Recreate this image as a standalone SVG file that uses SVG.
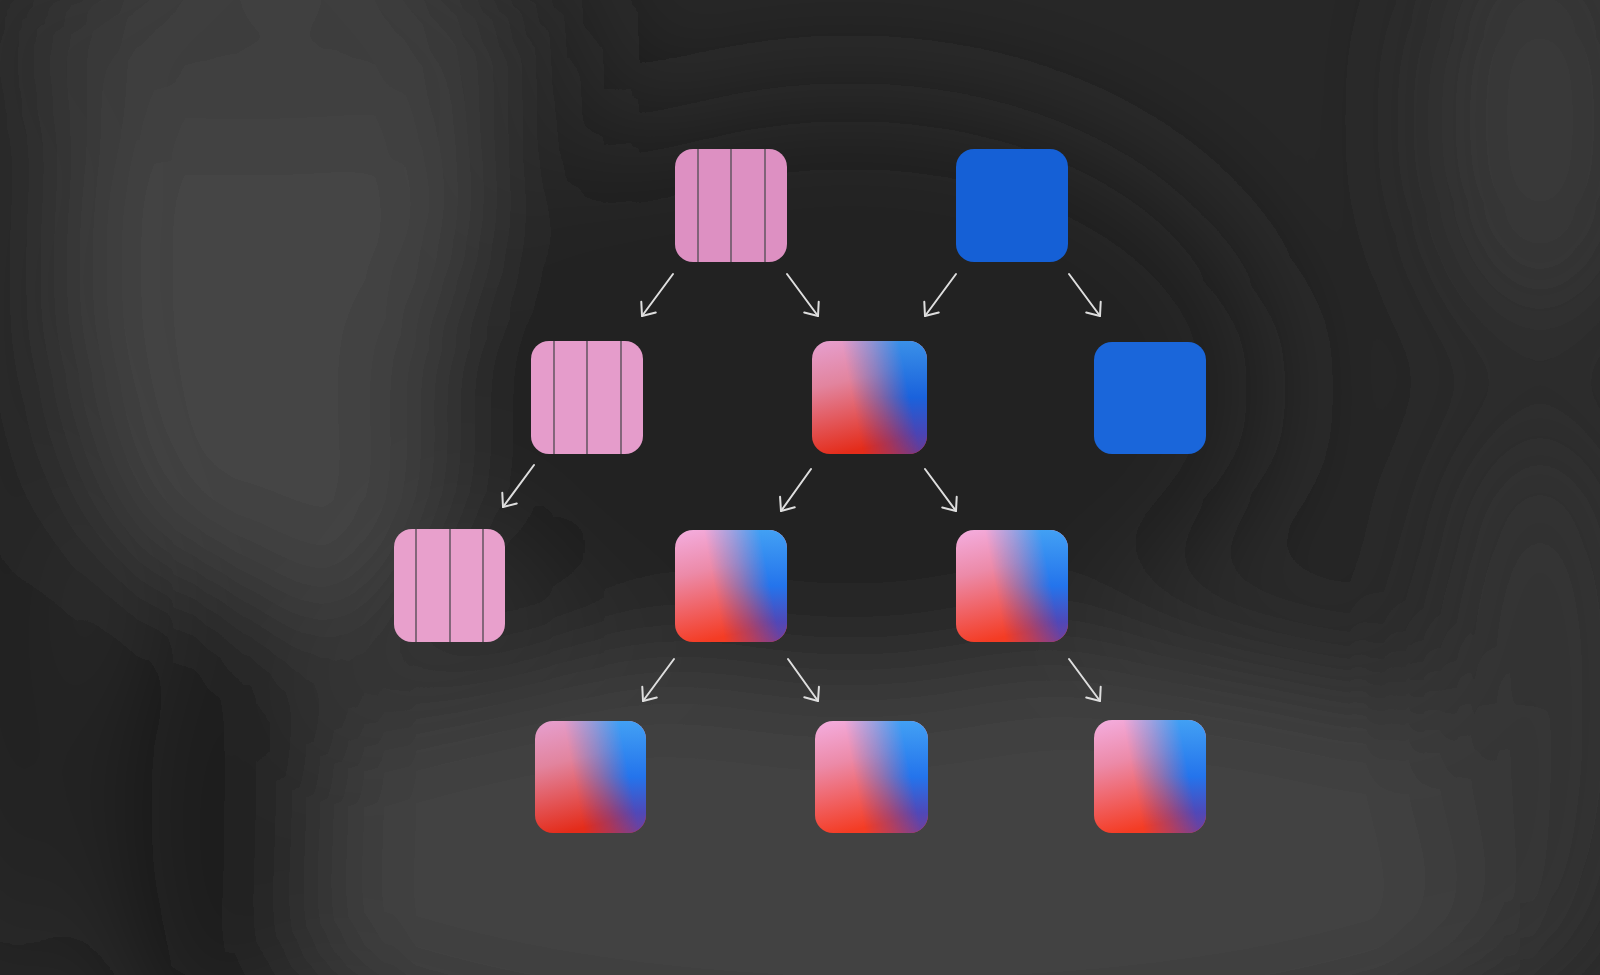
<svg xmlns="http://www.w3.org/2000/svg" width="1600" height="975" viewBox="0 0 1600 975">
  <defs>
    <filter id="blurBg" x="-50%" y="-50%" width="200%" height="200%">
      <feGaussianBlur stdDeviation="60"/>
    </filter>
    <linearGradient id="warm" x1="0" y1="0" x2="0.25" y2="1">
      <stop offset="0" stop-color="#e6a0d0"/>
      <stop offset="0.4" stop-color="#e2849e"/>
      <stop offset="1" stop-color="#e42c1a"/>
    </linearGradient>
    <linearGradient id="cool" x1="0" y1="0" x2="0" y2="1">
      <stop offset="0" stop-color="#3a90e8"/>
      <stop offset="0.5" stop-color="#1a62dc"/>
      <stop offset="0.82" stop-color="#4a44b4"/>
      <stop offset="1" stop-color="#6a3a92"/>
    </linearGradient>
    <linearGradient id="warm2" x1="0" y1="0" x2="0.25" y2="1">
      <stop offset="0" stop-color="#f4aee0"/>
      <stop offset="0.4" stop-color="#ec8aa8"/>
      <stop offset="1" stop-color="#f43c24"/>
    </linearGradient>
    <linearGradient id="cool2" x1="0" y1="0" x2="0" y2="1">
      <stop offset="0" stop-color="#42a0f4"/>
      <stop offset="0.5" stop-color="#2474ec"/>
      <stop offset="0.82" stop-color="#5048b8"/>
      <stop offset="1" stop-color="#72409a"/>
    </linearGradient>
    <linearGradient id="mg" x1="0.36" y1="0.545" x2="0.84" y2="0.455">
      <stop offset="0" stop-color="#000"/>
      <stop offset="0.5" stop-color="#777"/>
      <stop offset="1" stop-color="#fff"/>
    </linearGradient>
    <mask id="coolMask" maskContentUnits="objectBoundingBox">
      <rect x="0" y="0" width="1" height="1" fill="url(#mg)"/>
    </mask>
    <marker id="ah" viewBox="-14 -12 16 24" refX="0" refY="0" markerWidth="16" markerHeight="24" markerUnits="userSpaceOnUse" orient="auto">
      <path d="M-11,-9 L0,0 L-11,9" fill="none" stroke="#dedede" stroke-width="2" stroke-linecap="round" stroke-linejoin="round"/>
    </marker>
    <style>
      .arrow { stroke: #dedede; stroke-width: 2; fill: none; stroke-linecap: round; marker-end: url(#ah); }
      .stripe { stroke: #6a5866; stroke-width: 1.6; }
      .blue { fill: #1560d6; }
    </style>
  </defs>

  <!-- background -->
  <rect x="0" y="0" width="1600" height="975" fill="#272727"/>
  <g filter="url(#blurBg)">
    <ellipse cx="280" cy="260" rx="210" ry="420" fill="#444"/>
    <ellipse cx="250" cy="40" rx="300" ry="80" fill="#3e3e3e"/>
    <ellipse cx="900" cy="860" rx="720" ry="220" fill="#424242"/>
    <ellipse cx="850" cy="390" rx="420" ry="290" fill="#202020"/>
    <ellipse cx="545" cy="300" rx="40" ry="360" fill="#1d1d1d"/>
    <ellipse cx="210" cy="820" rx="110" ry="260" fill="#1c1c1c"/>
    <ellipse cx="0" cy="450" rx="50" ry="600" fill="#222"/>
    <ellipse cx="1540" cy="120" rx="100" ry="220" fill="#3a3a3a"/>
    <ellipse cx="1540" cy="700" rx="100" ry="300" fill="#363636"/>
  </g>

  <!-- connectors -->
  <g id="connectors">
    <line class="arrow" x1="673" y1="274" x2="642" y2="316"/>
    <line class="arrow" x1="787" y1="274" x2="818" y2="316"/>
    <line class="arrow" x1="956" y1="274" x2="925" y2="316"/>
    <line class="arrow" x1="1069" y1="274" x2="1100" y2="316"/>
    <line class="arrow" x1="534" y1="465" x2="503" y2="507"/>
    <line class="arrow" x1="811" y1="469" x2="781" y2="511"/>
    <line class="arrow" x1="925" y1="469" x2="956" y2="511"/>
    <line class="arrow" x1="674" y1="659" x2="643" y2="701"/>
    <line class="arrow" x1="788" y1="659" x2="818" y2="701"/>
    <line class="arrow" x1="1069" y1="659" x2="1100" y2="701"/>
  </g>

  <!-- row 1 -->
  <g id="pink-1">
    <rect x="675" y="149" width="112" height="113" rx="18" fill="#dd90c2"/>
    <line class="stripe" x1="698" y1="149" x2="698" y2="262"/>
    <line class="stripe" x1="731" y1="149" x2="731" y2="262"/>
    <line class="stripe" x1="765" y1="149" x2="765" y2="262"/>
  </g>
  <g id="blue-1">
    <rect class="blue" x="956" y="149" width="112" height="113" rx="18"/>
  </g>

  <!-- row 2 -->
  <g id="pink-2">
    <rect x="531" y="341" width="112" height="113" rx="18" fill="#e59ccb"/>
    <line class="stripe" x1="554" y1="341" x2="554" y2="454"/>
    <line class="stripe" x1="587" y1="341" x2="587" y2="454"/>
    <line class="stripe" x1="621" y1="341" x2="621" y2="454"/>
  </g>
  <g id="grad-2">
    <rect x="812" y="341" width="115" height="113" rx="18" fill="url(#warm)"/>
    <rect x="812" y="341" width="115" height="113" rx="18" fill="url(#cool)" mask="url(#coolMask)"/>
  </g>
  <g id="blue-2">
    <rect x="1094" y="342" width="112" height="112" rx="18" fill="#1a66da"/>
  </g>

  <!-- row 3 -->
  <g id="pink-3">
    <rect x="394" y="529" width="111" height="113" rx="18" fill="#e8a0cc"/>
    <line class="stripe" x1="416" y1="529" x2="416" y2="642"/>
    <line class="stripe" x1="450" y1="529" x2="450" y2="642"/>
    <line class="stripe" x1="483" y1="529" x2="483" y2="642"/>
  </g>
  <g id="grad-3a">
    <rect x="675" y="530" width="112" height="112" rx="18" fill="url(#warm2)"/>
    <rect x="675" y="530" width="112" height="112" rx="18" fill="url(#cool2)" mask="url(#coolMask)"/>
  </g>
  <g id="grad-3b">
    <rect x="956" y="530" width="112" height="112" rx="18" fill="url(#warm2)"/>
    <rect x="956" y="530" width="112" height="112" rx="18" fill="url(#cool2)" mask="url(#coolMask)"/>
  </g>

  <!-- row 4 -->
  <g id="grad-4a">
    <rect x="535" y="721" width="111" height="112" rx="18" fill="url(#warm)"/>
    <rect x="535" y="721" width="111" height="112" rx="18" fill="url(#cool2)" mask="url(#coolMask)"/>
  </g>
  <g id="grad-4b">
    <rect x="815" y="721" width="113" height="112" rx="18" fill="url(#warm2)"/>
    <rect x="815" y="721" width="113" height="112" rx="18" fill="url(#cool2)" mask="url(#coolMask)"/>
  </g>
  <g id="grad-4c">
    <rect x="1094" y="720" width="112" height="113" rx="18" fill="url(#warm2)"/>
    <rect x="1094" y="720" width="112" height="113" rx="18" fill="url(#cool2)" mask="url(#coolMask)"/>
  </g>
</svg>
